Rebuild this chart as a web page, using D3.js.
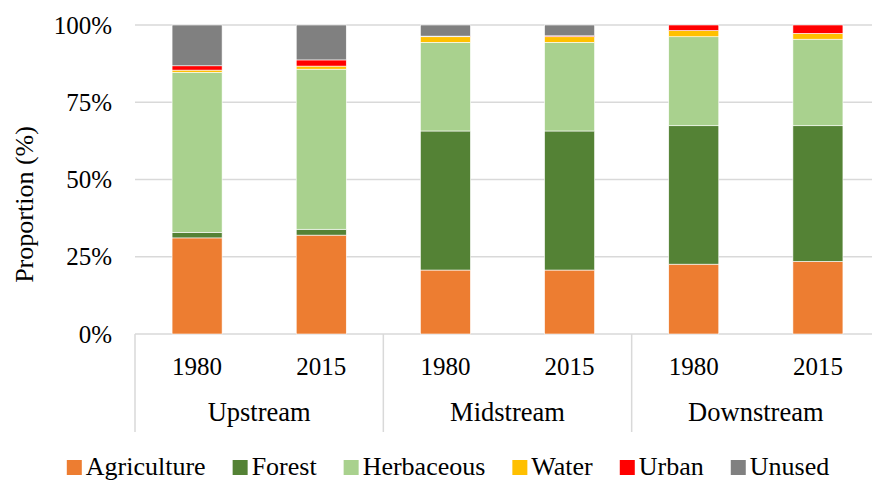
<!DOCTYPE html>
<html lang="en">
<head>
  <meta charset="UTF-8">
  <title>Land use proportion by reach</title>
  <script src="https://d3js.org/d3.v7.min.js"></script>
  <style>
    body { margin: 0; background: #fff; }
    text { font-family: "Liberation Serif", "Times New Roman", serif; fill: #000; }
  </style>
</head>
<body>
<div id="chart"></div>
<script>
  const regions = ["Upstream", "Midstream", "Downstream"];
  const years = ["1980", "2015"];
  const landUses = ["Agriculture", "Forest", "Herbaceous", "Water", "Urban", "Unused"];
  const colors = ["#ED7D31", "#548235", "#A9D18E", "#FFC000", "#FF0000", "#808080"];
  const yTicks = [0, 25, 50, 75, 100];

  // percent per bar: Up 1980, Up 2015, Mid 1980, Mid 2015, Down 1980, Down 2015
  const agriculture = [31.1, 32.0, 20.7, 20.7, 22.6, 23.5];
  const forest      = [1.8, 1.9, 45.0, 45.0, 44.8, 43.9];
  const herbaceous  = [51.8, 51.8, 28.7, 28.7, 28.8, 28.0];
  const water       = [0.7, 1.0, 1.8, 1.8, 2.0, 1.9];
  const urban       = [1.4, 2.0, 0.2, 0.3, 1.8, 2.7];
  const unused      = [13.2, 11.3, 3.6, 3.5, 0, 0];

  const series = [agriculture, forest, herbaceous, water, urban, unused];

  const rows = [];
  regions.forEach((r, gi) => {
    years.forEach((y, yi) => {
      const i = gi * years.length + yi;
      const row = { id: r + "-" + y, region: r, year: y };
      landUses.forEach((k, ki) => row[k] = series[ki][i]);
      rows.push(row);
    });
  });

  const width = 872;
  const height = 482;
  const plotLeft = 135, plotRight = 880, plotTop = 25, plotBottom = 334;

  const svg = d3.select("#chart").append("svg")
    .attr("width", width)
    .attr("height", height);

  const x = d3.scaleBand()
    .domain(rows.map(d => d.id))
    .range([plotLeft, plotRight])
    .paddingInner(0.597)
    .paddingOuter(0.2985);

  const y = d3.scaleLinear().domain([0, 100]).range([plotBottom, plotTop]);

  const color = d3.scaleOrdinal().domain(landUses).range(colors);

  // gridlines
  svg.append("g")
    .selectAll("line")
    .data(yTicks)
    .join("line")
      .attr("x1", plotLeft)
      .attr("x2", plotRight)
      .attr("y1", d => y(d))
      .attr("y2", d => y(d))
      .attr("stroke", "#d9d9d9")
      .attr("stroke-width", 1.5);

  // y tick labels
  svg.append("g")
    .selectAll("text")
    .data(yTicks)
    .join("text")
      .attr("x", 112)
      .attr("y", d => y(d))
      .attr("dy", "0.34em")
      .attr("text-anchor", "end")
      .style("font-size", "25px")
      .text(d => d + "%");

  svg.append("text")
    .attr("transform", `translate(33,${(plotTop + plotBottom) / 2 + 25}) rotate(-90)`)
    .attr("text-anchor", "middle")
    .style("font-size", "26px")
    .text("Proportion (%)");

  // stacked bars
  const stacked = d3.stack().keys(landUses)(rows);

  svg.append("g")
    .selectAll("g")
    .data(stacked)
    .join("g")
      .attr("fill", d => color(d.key))
    .selectAll("rect")
    .data(d => d)
    .join("rect")
      .attr("x", d => x(d.data.id))
      .attr("y", d => y(d[1]))
      .attr("width", x.bandwidth())
      .attr("height", d => y(d[0]) - y(d[1]))
      .attr("stroke", "#fff")
      .attr("stroke-width", 0.6);

  // category axis: group separators
  const groupWidth = x.step() * years.length;
  svg.append("g")
    .selectAll("line")
    .data(d3.range(regions.length + 1))
    .join("line")
      .attr("x1", d => plotLeft + d * groupWidth)
      .attr("x2", d => plotLeft + d * groupWidth)
      .attr("y1", plotBottom)
      .attr("y2", 432)
      .attr("stroke", "#d9d9d9")
      .attr("stroke-width", 1.5);

  svg.append("g")
    .selectAll("text")
    .data(rows)
    .join("text")
      .attr("x", d => x(d.id) + x.bandwidth() / 2)
      .attr("y", 375)
      .attr("text-anchor", "middle")
      .style("font-size", "25px")
      .text(d => d.year);

  svg.append("g")
    .selectAll("text")
    .data(regions)
    .join("text")
      .attr("x", (d, i) => plotLeft + (i + 0.5) * groupWidth)
      .attr("y", 421)
      .attr("text-anchor", "middle")
      .style("font-size", "26.5px")
      .text(d => d);

  // legend
  const legend = svg.append("g");
  const items = legend.selectAll("g")
    .data(landUses)
    .join("g");
  items.append("rect")
    .attr("y", 460)
    .attr("width", 15)
    .attr("height", 15)
    .attr("fill", d => color(d));
  items.append("text")
    .attr("x", 19)
    .attr("y", 475)
    .style("font-size", "26px")
    .text(d => d);

  let cx = 0;
  const offsets = [];
  items.each(function() {
    offsets.push(cx);
    const w = d3.select(this).select("text").node().getComputedTextLength();
    cx += 19 + w + 27;
  });
  const total = cx - 27;
  const startX = 448 - total / 2;
  items.attr("transform", (d, i) => `translate(${startX + offsets[i]},0)`);
</script>
</body>
</html>
